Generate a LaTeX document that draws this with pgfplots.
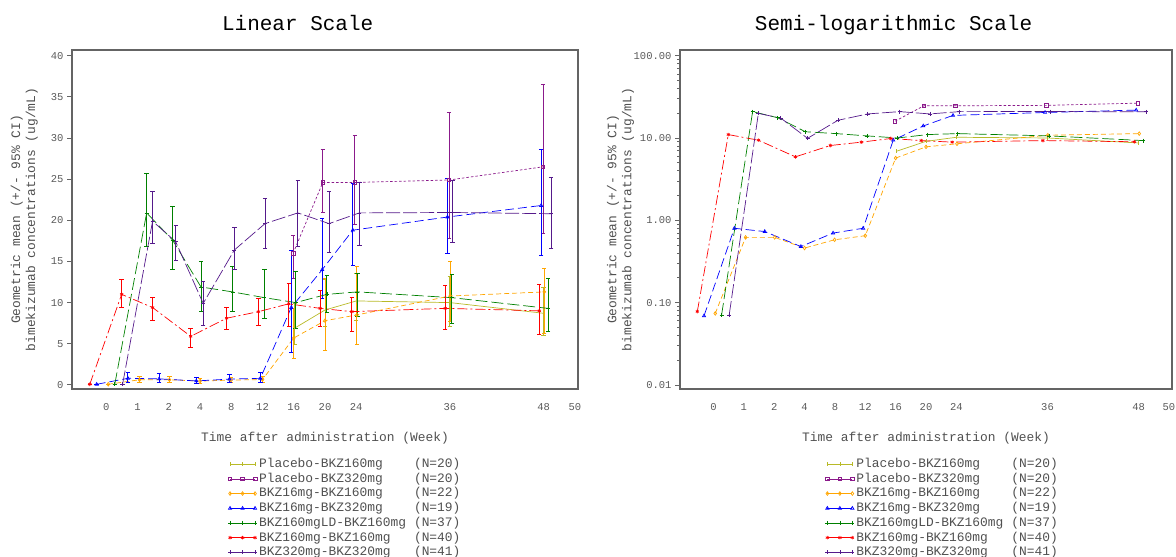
\documentclass[border=0pt]{standalone}
\usepackage{fontspec}
\setmainfont{Liberation Mono}
\usepackage{pgfplots}
\usepackage{pgfplotstable}
\pgfplotsset{compat=1.18}

\definecolor{cOlive}{RGB}{184,186,40}
\definecolor{cPurple}{RGB}{139,26,139}
\definecolor{cOrange}{RGB}{255,165,0}
\definecolor{cBlue}{RGB}{0,0,255}
\definecolor{cGreen}{RGB}{0,128,0}
\definecolor{cRed}{RGB}{255,0,0}
\definecolor{cIndigo}{RGB}{85,26,139}
\definecolor{axgray}{RGB}{100,100,100}
\definecolor{tgray}{RGB}{90,90,90}
\definecolor{lgray}{RGB}{80,80,80}

% x = visit position (0,1,2,4,8,12,16,20,24 weeks -> 0..8; 36 -> 11; 48 -> 14)
\pgfplotstableread{
x y ep em
6.03 6.9 3.0 1.9
7.00 9.1 3.7 2.0
8.00 10.2 3.4 2.3
11.00 10.0 3.2 2.9
14.00 8.7 3.2 2.7
}\tOlive
\pgfplotstableread{
x y ep em
5.98 16.0 2.2 3.0
6.93 24.6 4.1 3.6
7.96 24.6 5.8 5.1
10.97 24.9 8.3 7.1
13.98 26.5 10.0 8.1
}\tPurple
\pgfplotstableread{
x y ep em
0.06 0.074 0 0
1.06 0.62 0.4 0.3
2.02 0.62 0.4 0.3
3.00 0.46 0.4 0.25
3.99 0.58 0.4 0.3
5.00 0.65 0.45 0.35
6.00 5.7 3.6 2.5
7.00 7.8 5.2 3.55
8.02 8.5 5.9 3.6
11.01 10.8 4.2 3.1
14.02 11.3 2.9 5.0
}\tOrange
\pgfplotstableread{
x y ep em
-0.31 0.069 0 0
0.69 0.80 0.8 0.5
1.69 0.73 0.7 0.4
2.88 0.48 0.5 0.28
3.94 0.70 0.6 0.4
4.93 0.80 0.8 0.5
5.92 9.4 7.0 5.4
6.91 14.0 6.3 3.5
7.89 18.8 5.7 4.2
10.92 20.4 4.7 4.4
13.92 21.8 6.8 6.0
}\tBlue
\pgfplotstableread{
x y ep em
0.27 0.071 0 0
1.29 20.9 4.8 4.1
2.12 17.6 4.1 3.6
3.03 11.9 3.1 3.0
4.04 11.3 3.1 2.4
5.06 10.6 3.4 2.5
6.06 10.0 3.8 3.1
7.06 11.0 2.3 2.2
8.04 11.3 2.3 3.0
11.06 10.6 2.8 3.1
14.14 9.3 3.7 2.8
}\tGreen
\pgfplotstableread{
x y ep em
-0.53 0.078 0 0
0.49 11.0 1.8 1.5
1.48 9.4 1.2 1.5
2.70 5.9 1.0 1.3
3.85 8.1 1.4 1.3
4.87 8.9 1.6 1.7
5.84 9.85 2.45 2.75
6.84 9.3 2.2 2.2
7.86 8.9 1.8 2.4
10.85 9.3 2.85 2.5
13.86 9.0 3.2 2.9
}\tRed
\pgfplotstableread{
x y ep em
0.52 0.071 0 0
1.48 19.9 3.6 2.7
2.22 17.4 2.0 2.2
3.10 9.9 2.65 2.6
4.10 16.4 2.8 2.4
5.08 19.6 3.1 3.0
6.13 20.9 4.0 4.0
7.13 19.6 3.9 3.5
8.10 20.9 3.7 3.9
11.08 20.95 3.95 3.65
14.24 20.8 4.5 4.2
}\tIndigo

\pgfplotsset{
  sOlive/.style={color=cOlive, solid, line width=0.7bp, mark=|, mark size=2bp},
  sPurple/.style={color=cPurple, line width=0.7bp, dash pattern=on 2.5bp off 2bp, mark=square, mark size=1.8bp, mark options={solid}},
  sOrange/.style={color=cOrange, line width=0.7bp, dash pattern=on 5bp off 3bp, mark=diamond, mark size=1.8bp, mark options={solid}},
  sBlue/.style={color=cBlue, line width=0.7bp, dash pattern=on 9bp off 4bp, mark=triangle, mark size=1.8bp, mark options={solid}},
  sGreen/.style={color=cGreen, line width=0.7bp, dash pattern=on 12bp off 4bp, mark=+, mark size=2bp, mark options={solid}},
  sRed/.style={color=cRed, line width=0.7bp, dash pattern=on 10bp off 3bp on 2bp off 3bp, mark=asterisk, mark size=1.8bp, mark options={solid}},
  sIndigo/.style={color=cIndigo, line width=0.7bp, dash pattern=on 14bp off 3bp, mark=+, mark size=2bp, mark options={solid}},
  eb/.style={error bars/.cd, y dir=both, y explicit,
    error bar style={solid, line width=1bp, color=#1},
    error mark options={solid, color=#1, rotate=90, mark size=2.2bp}},
  common/.style={
    scale only axis, height=339bp,
    xmin=-1.1, xmax=15.1,
    xtick={0,1,2,3,4,5,6,7,8,11,14,15},
    xticklabels={0,1,2,4,8,12,16,20,24,36,48,50},
    major x tick style={draw=none},
    ytick pos=left,
    axis line style={draw=axgray, line width=1.6bp},
    tick style={color=axgray, line width=0.8bp},
    tick align=outside, major tick length=5bp,
    ticklabel style={font=\fontsize{10.5bp}{12bp}\selectfont, text=tgray},
    xticklabel style={yshift=-6bp},
    label style={font=\fontsize{12.9bp}{15bp}\selectfont, text=lgray},
    xlabel={Time after administration (Week)},
    xlabel style={at={(axis description cs:0.5,0)}, anchor=center, yshift=-49bp},
    ylabel={Geometric mean (+/- 95\% CI)\\bimekizumab concentrations (ug/mL)},
    title style={font=\fontsize{21bp}{24bp}\selectfont, anchor=center, yshift=17bp,
      text height=11bp, text depth=4bp},
    legend style={draw=none, fill=none, inner sep=0pt, anchor=north west,
      font=\fontsize{12.9bp}{15bp}\selectfont, text=lgray,
      nodes={inner ysep=0pt, text height=9.5bp, text depth=2.8bp},
      row sep=2.4bp},
    legend cell align=left,
    legend image code/.code={\draw[##1, solid] plot coordinates {(0bp,0bp) (12.5bp,0bp) (25bp,0bp)};},
  },
}

\begin{document}
\begin{tikzpicture}[x=1bp,y=1bp]
\path[use as bounding box] (0,0) rectangle (1176,557);

\begin{axis}[common, width=506bp, at={(72bp,168bp)}, anchor=south west,
  ymin=-0.5, ymax=40.7,
  ytick={0,5,10,15,20,25,30,35,40},
  yticklabels={0,5,10,15,20,25,30,35,40},
  title={Linear Scale},
  title style={at={(axis description cs:0.446,1)}},
  ylabel style={align=center, at={(axis description cs:-0.0945,0.5)}, anchor=center},
  legend style={at={(axis description cs:0.308,-0.203)}},
]
\addplot[sOlive, eb=cOlive] table[x=x, y=y, y error plus=ep, y error minus=em] {\tOlive};
\addlegendentry{\makebox[155bp][l]{Placebo-BKZ160mg}(N=20)}
\addplot[sPurple, eb=cPurple] table[x=x, y=y, y error plus=ep, y error minus=em] {\tPurple};
\addlegendentry{\makebox[155bp][l]{Placebo-BKZ320mg}(N=20)}
\addplot[sOrange, eb=cOrange] table[x=x, y=y, y error plus=ep, y error minus=em] {\tOrange};
\addlegendentry{\makebox[155bp][l]{BKZ16mg-BKZ160mg}(N=22)}
\addplot[sBlue, eb=cBlue] table[x=x, y=y, y error plus=ep, y error minus=em] {\tBlue};
\addlegendentry{\makebox[155bp][l]{BKZ16mg-BKZ320mg}(N=19)}
\addplot[sGreen, eb=cGreen] table[x=x, y=y, y error plus=ep, y error minus=em] {\tGreen};
\addlegendentry{\makebox[155bp][l]{BKZ160mgLD-BKZ160mg}(N=37)}
\addplot[sRed, eb=cRed] table[x=x, y=y, y error plus=ep, y error minus=em] {\tRed};
\addlegendentry{\makebox[155bp][l]{BKZ160mg-BKZ160mg}(N=40)}
\addplot[sIndigo, eb=cIndigo] table[x=x, y=y, y error plus=ep, y error minus=em] {\tIndigo};
\addlegendentry{\makebox[155bp][l]{BKZ320mg-BKZ320mg}(N=41)}
\end{axis}

\begin{axis}[common, width=492bp, at={(680bp,168bp)}, anchor=south west,
  ymode=log, ymin=0.00893, ymax=117.2,
  ytick={0.01,0.1,1,10,100},
  yticklabels={0.01,0.10,1.00,10.00,100.00},
  title={Semi-logarithmic Scale},
  title style={at={(axis description cs:0.434,1)}},
  ylabel style={align=center, at={(axis description cs:-0.121,0.5)}, anchor=center},
  legend style={at={(axis description cs:0.295,-0.203)}},
]
\addplot[sOlive] table[x=x, y=y] {\tOlive};
\addlegendentry{\makebox[155bp][l]{Placebo-BKZ160mg}(N=20)}
\addplot[sPurple] table[x=x, y=y] {\tPurple};
\addlegendentry{\makebox[155bp][l]{Placebo-BKZ320mg}(N=20)}
\addplot[sOrange] table[x=x, y=y] {\tOrange};
\addlegendentry{\makebox[155bp][l]{BKZ16mg-BKZ160mg}(N=22)}
\addplot[sBlue] table[x=x, y=y] {\tBlue};
\addlegendentry{\makebox[155bp][l]{BKZ16mg-BKZ320mg}(N=19)}
\addplot[sGreen] table[x=x, y=y] {\tGreen};
\addlegendentry{\makebox[155bp][l]{BKZ160mgLD-BKZ160mg}(N=37)}
\addplot[sRed] table[x=x, y=y] {\tRed};
\addlegendentry{\makebox[155bp][l]{BKZ160mg-BKZ160mg}(N=40)}
\addplot[sIndigo] table[x=x, y=y] {\tIndigo};
\addlegendentry{\makebox[155bp][l]{BKZ320mg-BKZ320mg}(N=41)}
\end{axis}
\end{tikzpicture}
\end{document}
